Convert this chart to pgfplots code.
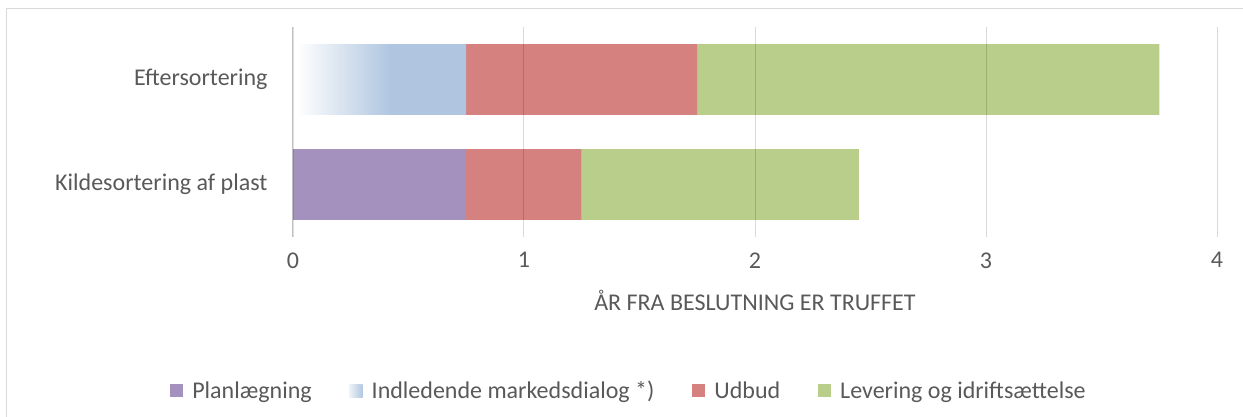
\documentclass[border=0pt]{standalone}
\usepackage{fontspec}
\setmainfont{Carlito}
\usepackage{pgfplots}
\pgfplotsset{compat=1.18}
\definecolor{cPurple}{HTML}{A491BE}
\definecolor{cBlue}{HTML}{B0C6E0}
\definecolor{cRed}{HTML}{D48180}
\definecolor{cGreen}{HTML}{BACE8B}
\definecolor{cText}{HTML}{595959}
\definecolor{cFrame}{HTML}{D9D9D9}
\pgfdeclarehorizontalshading{blueshade}{100bp}{color(0bp)=(white); color(26bp)=(white); color(53bp)=(cBlue); color(100bp)=(cBlue)}
\pgfplotsset{sqlegend/.style={legend image code/.code={\path[##1, draw=none] (0bp,-6.5bp) rectangle (13bp,6.5bp);}}}
\begin{document}
\begin{tikzpicture}[font=\fontsize{24bp}{28bp}\selectfont]
\path[use as bounding box] (-293bp,-180bp) rectangle (950bp,237bp);
\draw[cFrame, line width=1.3bp] (-286.5bp,-185bp) -- (-286.5bp,228.5bp) -- (955bp,228.5bp);
\begin{axis}[
  at={(0,0)}, anchor=south west,
  scale only axis, width=924bp, height=210bp,
  xbar stacked, bar width=0.673,
  xmin=0, xmax=4, ymin=-0.5, ymax=1.5,
  xtick={0,1,2,3,4},
  ytick={0,1},
  yticklabels={Kildesortering af plast, Eftersortering},
  /pgf/number format/assume math mode=true,
  tick label style={font=\fontsize{24bp}{28bp}\selectfont, text=cText},
  xticklabel style={yshift=-12bp},
  yticklabel style={xshift=-22bp},
  major tick length=0pt,
  axis line style={draw=none},
  xmajorgrids,
  major grid style={black, opacity=0.15, line width=1bp},
  extra x ticks={0},
  extra x tick labels={},
  extra x tick style={major grid style={black, opacity=0.12, line width=1.4bp}},
  axis on top,
  xlabel={ÅR FRA BESLUTNING ER TRUFFET},
  xlabel style={at={(axis description cs:0.5,-0.3)}, anchor=center, font=\fontsize{24bp}{28bp}\selectfont, text=cText},
  legend columns=4,
  legend style={at={(axis description cs:0.3636,-0.733)}, anchor=center, draw=none, fill=none,
    font=\fontsize{24bp}{28bp}\selectfont, text=cText,
    /tikz/every odd column/.append style={column sep=7bp},
    /tikz/every even column/.append style={column sep=36bp}},
]
\addplot[fill=cPurple, draw=none, sqlegend] coordinates {(0.75,0) (0,1)};
\addlegendentry{Planlægning}
\addplot[shade, shading=blueshade, draw=none,
  legend image code/.code={\path[left color=cBlue!25, right color=cBlue, draw=none] (0bp,-6.5bp) rectangle (13bp,6.5bp);}]
  coordinates {(0,0) (0.75,1)};
\addlegendentry{Indledende markedsdialog *)}
\addplot[fill=cRed, draw=none, sqlegend] coordinates {(0.5,0) (1.0,1)};
\addlegendentry{Udbud}
\addplot[fill=cGreen, draw=none, sqlegend] coordinates {(1.2,0) (2.0,1)};
\addlegendentry{Levering og idriftsættelse}
\end{axis}
\end{tikzpicture}
\end{document}
